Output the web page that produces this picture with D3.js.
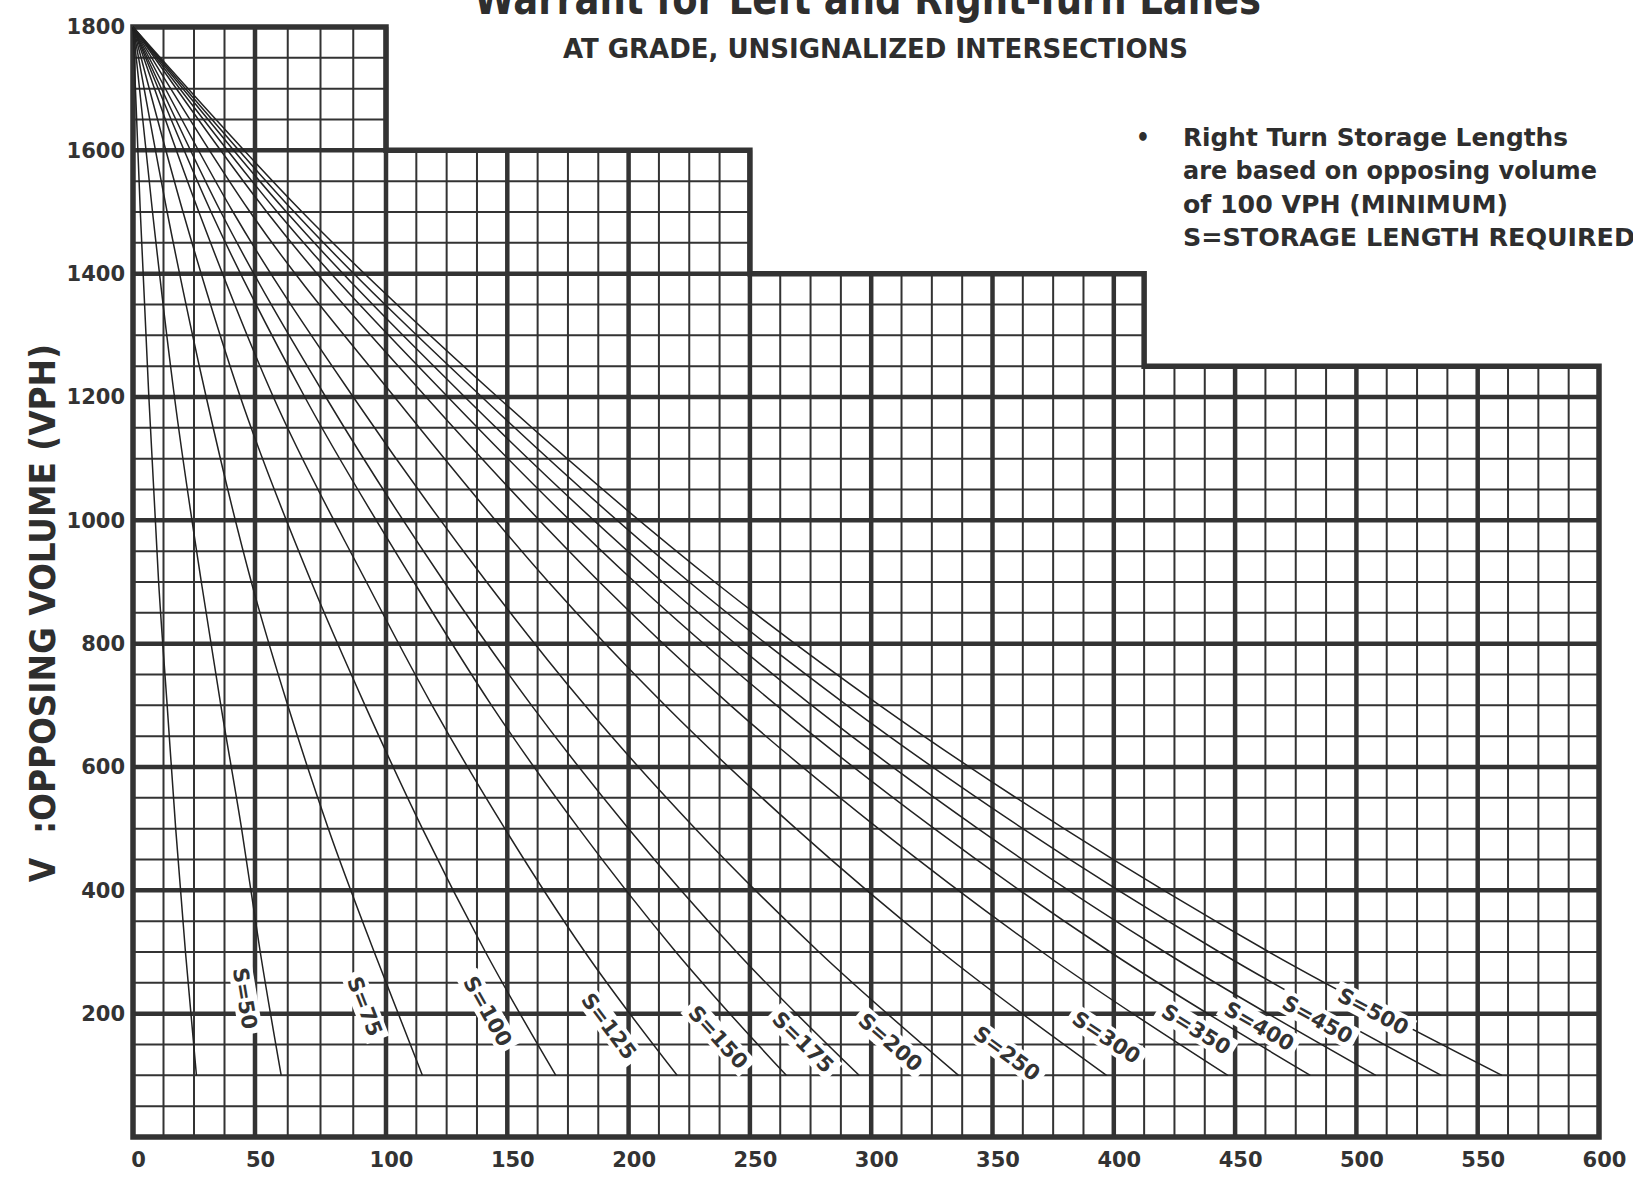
<!DOCTYPE html>
<html>
<head>
<meta charset="utf-8">
<script src="https://cdnjs.cloudflare.com/ajax/libs/d3/7.8.5/d3.min.js"></script>
<style>
  body { margin: 0; background: #fff; }
  svg { display: block; }
  .tick text { font-family: "DejaVu Sans", sans-serif; font-weight: bold; font-size: 21px; fill: #333; }
  .cond { font-family: "DejaVu Sans Condensed", "Liberation Sans Narrow", "DejaVu Sans", sans-serif; font-weight: bold; fill: #2e2e2e; }
</style>
</head>
<body>
<div id="chart"></div>
<script>
// tick labels
var xTicks = [0, 50, 100, 150, 200, 250, 300, 350, 400, 450, 500, 550, 600];
var yTicks = [200, 400, 600, 800, 1000, 1200, 1400, 1600, 1800];

// stepped outline of the chart area
var stepEdges = [0, 100, 250, 412.5, 600];
var stepTops = [1800, 1600, 1400, 1250];

// opposing volume levels at which each curve was read
var volumeLevels = [1800, 1500, 1200, 900, 700, 500, 300, 100];

var curveNames = ["", "S=50", "S=75", "S=100", "S=125", "S=150", "S=175", "S=200",
                  "S=250", "S=300", "S=350", "S=400", "S=450", "S=500"];

// advancing volume (x) of each curve at the volume levels above
var curveX = [
  [0, 3, 6.5, 10.5, 14, 17.5, 21.5, 26],
  [0, 8, 17, 28, 36, 44.5, 52, 60],
  [0, 14, 30, 48.5, 62.5, 78, 95.5, 115],
  [0, 20.5, 44, 71.5, 92, 115, 141, 170],
  [0, 27, 57, 92.5, 119, 149, 182, 220],
  [0, 32, 69, 111.5, 143.5, 179.5, 219.5, 265],
  [0, 36, 77, 124, 160, 200, 244.5, 295],
  [0, 41, 87.5, 141.5, 182, 227.5, 278.5, 336],
  [0, 48, 103.5, 167, 215, 269, 329, 397],
  [0, 54.5, 116.5, 188, 242, 303, 370.5, 447],
  [0, 58.5, 125.5, 202.5, 261, 326, 398.5, 481],
  [0, 62, 132.5, 214, 275.5, 344, 421, 508],
  [0, 65, 139.5, 225, 290, 362.5, 443.5, 535],
  [0, 68, 146, 235.5, 303.5, 379.5, 464, 560]
];

// where each curve label is centred, in chart units (advancing, opposing)
var labelX = [null, 46, 92, 142, 192, 237, 272, 308, 356, 397, 434, 460, 484, 507];
var labelV = [null, 225, 212, 204, 180, 162, 154, 154, 136, 162, 175, 180, 191, 204];

var noteLines = ["Right Turn Storage Lengths", "are based on opposing volume",
                 "of 100 VPH (MINIMUM)", "S=STORAGE LENGTH REQUIRED"];

var width = 1633,
    height = 1178,
    ink = "#333";

var svg = d3.select("#chart").append("svg")
    .attr("width", width)
    .attr("height", height);

// the scanned sheet is a little wider in its first 100 units
var x = d3.scaleLinear().domain([0, 50, 100, 600]).range([133, 255, 386, 1599]);
var y = d3.scaleLinear().domain([0, 1800]).range([1137, 27]);

function topAt(xv) {
  var t = 0;
  for (var i = 0; i < stepTops.length; i++) {
    if (xv >= stepEdges[i] - 1e-6 && xv <= stepEdges[i + 1] + 1e-6) t = Math.max(t, stepTops[i]);
  }
  return t;
}

function rightAt(v) {
  var r = 0;
  for (var i = 0; i < stepTops.length; i++) {
    if (stepTops[i] >= v) r = Math.max(r, stepEdges[i + 1]);
  }
  return r;
}

// grid
var grid = svg.append("g").attr("class", "grid");

grid.selectAll("line.v")
  .data(d3.range(12.5, 600, 12.5))
  .join("line")
    .attr("class", "v")
    .attr("x1", function(d) { return x(d); })
    .attr("x2", function(d) { return x(d); })
    .attr("y1", y(0))
    .attr("y2", function(d) { return y(topAt(d)); })
    .attr("stroke", ink)
    .attr("stroke-width", function(d) { return d % 50 === 0 ? 4.5 : 2; });

grid.selectAll("line.h")
  .data(d3.range(50, 1800, 50))
  .join("line")
    .attr("class", "h")
    .attr("x1", x(0))
    .attr("x2", function(d) { return x(rightAt(d)); })
    .attr("y1", function(d) { return y(d); })
    .attr("y2", function(d) { return y(d); })
    .attr("stroke", ink)
    .attr("stroke-width", function(d) { return d % 200 === 0 ? 4.5 : 2; });

// outline
var outline = [[0, 0], [0, stepTops[0]]];
stepTops.forEach(function(t, i) {
  outline.push([stepEdges[i], t]);
  outline.push([stepEdges[i + 1], t]);
});
outline.push([600, 0]);

svg.append("path")
    .attr("d", d3.line().x(function(d) { return x(d[0]); }).y(function(d) { return y(d[1]); })(outline) + "Z")
    .attr("fill", "none")
    .attr("stroke", ink)
    .attr("stroke-width", 5.5)
    .attr("stroke-linejoin", "miter");

// storage curves
var curveLine = d3.line()
    .x(function(d) { return x(d[0]); })
    .y(function(d) { return y(d[1]); })
    .curve(d3.curveMonotoneX);

var curves = svg.append("g").attr("class", "curves");

var curvePaths = curves.selectAll("path")
  .data(curveX)
  .join("path")
    .attr("d", function(xs) { return curveLine(xs.map(function(v, i) { return [v, volumeLevels[i]]; })); })
    .attr("fill", "none")
    .attr("stroke", "#222")
    .attr("stroke-width", 1.5);

// label angle follows the curve at the point nearest the label
var labelData = [];
curvePaths.each(function(xs, i) {
  if (labelX[i] == null) return;
  var node = this, len = node.getTotalLength(),
      cx = x(labelX[i]), cy = y(labelV[i]);
  var best = 0, bestDist = Infinity;
  for (var s = 0; s <= len; s += 0.5) {
    var p = node.getPointAtLength(s);
    var dd = (p.x - cx) * (p.x - cx) + (p.y - cy) * (p.y - cy);
    if (dd < bestDist) { bestDist = dd; best = s; }
  }
  var p0 = node.getPointAtLength(Math.max(0, best - 6)),
      p1 = node.getPointAtLength(Math.min(len, best + 6));
  labelData.push({
    name: curveNames[i],
    cx: cx,
    cy: cy,
    deg: Math.atan2(p1.y - p0.y, p1.x - p0.x) * 180 / Math.PI
  });
});

var boxes = svg.append("g").attr("class", "label-boxes");
var labels = svg.append("g").attr("class", "labels");

labelData.forEach(function(d) {
  var t = labels.append("text")
      .attr("transform", "translate(" + d.cx + "," + d.cy + ")rotate(" + d.deg + ")")
      .attr("text-anchor", "middle")
      .attr("dy", "0.36em")
      .style("font-family", "'DejaVu Sans', sans-serif")
      .style("font-weight", "bold")
      .style("font-size", "21px")
      .style("fill", ink)
      .text(d.name);
  var w = t.node().getComputedTextLength() + 10;
  boxes.append("rect")
      .attr("transform", "translate(" + d.cx + "," + d.cy + ")rotate(" + d.deg + ")")
      .attr("x", -w / 2)
      .attr("y", -12)
      .attr("width", w)
      .attr("height", 24)
      .attr("fill", "#fff");
});

// axes
var yAxis = svg.append("g")
    .attr("transform", "translate(" + x(0) + ",0)")
    .call(d3.axisLeft(y).tickValues(yTicks).tickSize(0).tickPadding(8).tickFormat(d3.format("d")));
yAxis.select(".domain").remove();

var xAxis = svg.append("g")
    .attr("transform", "translate(0," + y(0) + ")")
    .call(d3.axisBottom(x).tickValues(xTicks).tickSize(0).tickPadding(15).tickFormat(d3.format("d")));
xAxis.select(".domain").remove();
xAxis.selectAll(".tick text").attr("dx", 5);

// y-axis title
svg.append("text")
    .attr("class", "cond")
    .attr("transform", "translate(55,870)rotate(-90)")
    .attr("text-anchor", "middle")
    .style("font-size", "35px")
    .text("V");

svg.append("text")
    .attr("class", "cond")
    .attr("transform", "translate(55,834)rotate(-90)")
    .attr("textLength", 490)
    .attr("lengthAdjust", "spacingAndGlyphs")
    .style("font-size", "35px")
    .text(":OPPOSING VOLUME (VPH)");

// titles
svg.append("text")
    .attr("class", "cond")
    .attr("x", 474)
    .attr("y", 14)
    .attr("textLength", 787)
    .attr("lengthAdjust", "spacingAndGlyphs")
    .style("font-size", "44px")
    .text("Warrant for Left and Right-Turn Lanes");

svg.append("text")
    .attr("class", "cond")
    .attr("x", 563)
    .attr("y", 58)
    .attr("textLength", 625)
    .attr("lengthAdjust", "spacingAndGlyphs")
    .style("font-size", "26px")
    .text("AT GRADE, UNSIGNALIZED INTERSECTIONS");

// note block
var noteLengths = [385, 414, 325, 452];
svg.append("text")
    .attr("class", "cond")
    .attr("x", 1136)
    .attr("y", 146)
    .style("font-size", "24px")
    .text("\u2022");

svg.selectAll("text.note")
  .data(noteLines)
  .join("text")
    .attr("class", "cond note")
    .attr("x", 1183)
    .attr("y", function(d, i) { return 146 + i * 33.3; })
    .attr("textLength", function(d, i) { return noteLengths[i]; })
    .attr("lengthAdjust", "spacingAndGlyphs")
    .style("font-size", "24px")
    .text(function(d) { return d; });
</script>
</body>
</html>
